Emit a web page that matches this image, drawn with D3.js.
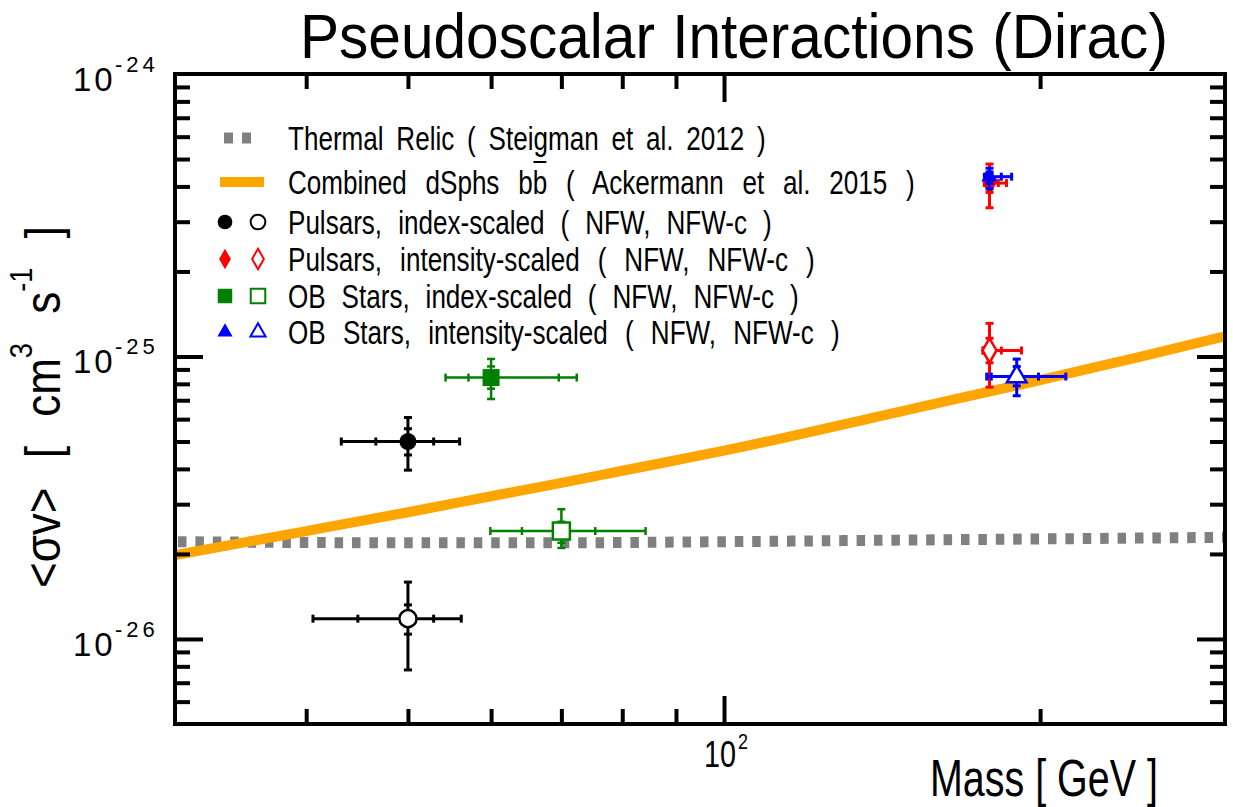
<!DOCTYPE html>
<html><head><meta charset="utf-8">
<script src="https://cdn.jsdelivr.net/npm/d3@7"></script>
<style>body{margin:0;background:#fff} svg{display:block}</style>
</head><body>
<script>
// ---------------- data ----------------
const massDomain = [30, 300];
const sigmaDomain = [5e-27, 1e-24];
const xMinorTicks = [40, 50, 60, 70, 80, 90, 200];
const xMajorTicks = [100];
const xTickBase = ["10"];
const xTickExp = ["2"];
const yMajorTicks = [1e-26, 1e-25, 1e-24];
const yTickBase = ["10", "10", "10"];
const yTickExp = ["-26", "-25", "-24"];
const yMinorTicks = [6e-27, 7e-27, 8e-27, 9e-27,
  2e-26, 3e-26, 4e-26, 5e-26, 6e-26, 7e-26, 8e-26, 9e-26,
  2e-25, 3e-25, 4e-25, 5e-25, 6e-25, 7e-25, 8e-25, 9e-25];

const thermalMass = [30, 50, 70, 100, 150, 200, 300];
const thermalSigma = [2.21e-26, 2.19e-26, 2.19e-26, 2.21e-26, 2.24e-26, 2.26e-26, 2.29e-26];

const dsphMass = [30, 40, 50, 60, 70, 80, 100, 150, 200, 250, 300];
const dsphSigma = [1.98e-26, 2.41e-26, 2.81e-26, 3.2e-26, 3.57e-26, 3.94e-26, 4.64e-26, 6.49e-26, 8.25e-26, 1.0e-25, 1.18e-25];

const pointSeries = ["Pulsars, index-scaled", "Pulsars, index-scaled", "Pulsars, intensity-scaled", "Pulsars, intensity-scaled",
  "OB Stars, index-scaled", "OB Stars, index-scaled", "OB Stars, intensity-scaled", "OB Stars, intensity-scaled"];
const pointProfile = ["NFW", "NFW-c", "NFW", "NFW-c", "NFW", "NFW-c", "NFW", "NFW-c"];
const pointMass  = [50, 50, 179, 179, 60, 70, 179, 190];
const pointSigma = [5.0e-26, 1.18e-26, 4.11e-25, 1.05e-25, 8.42e-26, 2.41e-26, 4.33e-25, 8.49e-26];
const massInnerLo = [46.6, 44.8, 177.5, 176.5, 57.1, 64.2, 177.5, 179.7];
const massInnerHi = [52.9, 52.9, 182.5, 183.7, 69.6, 75.4, 183.7, 199.3];
const massOuterLo = [43.2, 40.6, 177.0, 176.5, 54.3, 59.9, 177.0, 177.9];
const massOuterHi = [56.0, 56.2, 185.8, 192.0, 72.4, 84.2, 187.9, 211.6];
const sigmaInnerLo = [4.48e-26, 1.04e-26, 3.81e-25, 9.5e-26, 7.69e-26, 2.19e-26, 4.1e-25, 7.87e-26];
const sigmaInnerHi = [5.55e-26, 1.32e-26, 4.45e-25, 1.16e-25, 9.22e-26, 2.6e-26, 4.5e-25, 9.22e-26];
const sigmaOuterLo = [3.96e-26, 7.77e-27, 3.36e-25, 7.79e-26, 7.07e-26, 2.1e-26, 3.92e-25, 7.26e-26];
const sigmaOuterHi = [6.08e-26, 1.59e-26, 4.8e-25, 1.31e-25, 9.8e-26, 2.88e-26, 4.64e-25, 9.79e-26];

const legendLabels = [
  "Thermal Relic ( Steigman et al. 2012 )",
  "Combined dSphs bb ( Ackermann et al. 2015 )",
  "Pulsars, index-scaled ( NFW, NFW-c )",
  "Pulsars, intensity-scaled ( NFW, NFW-c )",
  "OB Stars, index-scaled ( NFW, NFW-c )",
  "OB Stars, intensity-scaled ( NFW, NFW-c )"
];
const titleText = "Pseudoscalar Interactions (Dirac)";

// ---------------- style ----------------
const W = 1233, H = 807;
const L = 175, R = 1225, T = 74, B = 724;
const SANS = "'Liberation Sans',Arial,Helvetica,sans-serif";
const shapeOf = {circle: d3.symbolCircle, diamond: d3.symbolDiamond, square: d3.symbolSquare, triangle: d3.symbolTriangle};
const seriesShape = ["circle", "circle", "diamond", "diamond", "square", "square", "triangle", "triangle"];
const seriesFilled = [true, false, true, false, true, false, true, false];
const seriesColor = ["#000000", "#000000", "#ff0000", "#ff0000", "#008000", "#008000", "#0000ff", "#0000ff"];
const markerSize = {circle: 230, diamond: 170, square: 289, triangle: 115};
const markerSizeOpen = {circle: 230, diamond: 170, square: 289, triangle: 165};
const legendSize = {circle: 170, diamond: 120, square: 210, triangle: 100};

const svg = d3.select("body").append("svg").attr("width", W).attr("height", H);
svg.append("rect").attr("width", W).attr("height", H).attr("fill", "#fff");

const x = d3.scaleLog().domain(massDomain).range([L, R]);
const y = d3.scaleLog().domain(sigmaDomain).range([B, T]);

// condensed text: glyphs squeezed horizontally by ~c, extra room put into word spaces
function condensed(sel, px, py, target, c, rot) {
  const node = sel.node();
  const nat = node.getComputedTextLength();
  const n = (node.textContent.match(/ /g) || []).length;
  if (n > 0 && nat * c < target) {
    sel.style("word-spacing", ((target / c - nat) / n) + "px");
  }
  const nat2 = node.getComputedTextLength();
  const s = target / nat2;
  sel.attr("transform", `translate(${px},${py})` + (rot ? ` rotate(${rot})` : "") + ` scale(${s},1)`);
}

// clip
svg.append("clipPath").attr("id", "clip").append("rect")
  .attr("x", L).attr("y", T).attr("width", R - L).attr("height", B - T);

// ---------------- lines ----------------
const lineGen = d3.line().x(d => x(d[0])).y(d => y(d[1])).curve(d3.curveMonotoneX);
const plotG = svg.append("g").attr("clip-path", "url(#clip)");
plotG.append("path")
  .attr("d", lineGen(thermalMass.map((m, i) => [m, thermalSigma[i]])))
  .attr("fill", "none").attr("stroke", "#808080").attr("stroke-width", 11)
  .attr("stroke-dasharray", "8.5,8.9").attr("stroke-dashoffset", -3);
plotG.append("path")
  .attr("d", lineGen(dsphMass.map((m, i) => [m, dsphSigma[i]])))
  .attr("fill", "none").attr("stroke", "#ffa500").attr("stroke-width", 10);

// ---------------- axes (ticks inside on all sides) ----------------
function styleAxis(g) {
  g.select(".domain").remove();
  g.selectAll(".tick line").attr("stroke", "#000").attr("stroke-width", 4);
  g.selectAll(".tick text").remove();
}
svg.append("g").attr("transform", `translate(0,${B})`)
  .call(d3.axisBottom(x).tickValues(xMinorTicks).tickSize(-15).tickFormat("")).call(styleAxis);
svg.append("g").attr("transform", `translate(0,${B})`)
  .call(d3.axisBottom(x).tickValues(xMajorTicks).tickSize(-28).tickFormat("")).call(styleAxis);
svg.append("g").attr("transform", `translate(0,${T})`)
  .call(d3.axisTop(x).tickValues(xMinorTicks).tickSize(-15).tickFormat("")).call(styleAxis);
svg.append("g").attr("transform", `translate(0,${T})`)
  .call(d3.axisTop(x).tickValues(xMajorTicks).tickSize(-28).tickFormat("")).call(styleAxis);
svg.append("g").attr("transform", `translate(${L},0)`)
  .call(d3.axisLeft(y).tickValues(yMinorTicks).tickSize(-15).tickFormat("")).call(styleAxis);
svg.append("g").attr("transform", `translate(${L},0)`)
  .call(d3.axisLeft(y).tickValues(yMajorTicks.slice(0, 2)).tickSize(-28).tickFormat("")).call(styleAxis);
svg.append("g").attr("transform", `translate(${R},0)`)
  .call(d3.axisRight(y).tickValues(yMinorTicks).tickSize(-15).tickFormat("")).call(styleAxis);
svg.append("g").attr("transform", `translate(${R},0)`)
  .call(d3.axisRight(y).tickValues(yMajorTicks.slice(0, 2)).tickSize(-28).tickFormat("")).call(styleAxis);

// frame
svg.append("rect").attr("x", L).attr("y", T).attr("width", R - L).attr("height", B - T)
  .attr("fill", "none").attr("stroke", "#000").attr("stroke-width", 4);

// tick labels
yMajorTicks.forEach((v, i) => {
  const t = svg.append("text").attr("font-family", SANS).attr("fill", "#000");
  t.append("tspan").attr("x", 73).attr("y", y(v) + 17).attr("font-size", 33).attr("letter-spacing", 3).text(yTickBase[i]);
  t.append("tspan").attr("x", 115).attr("y", y(v) - 2).attr("font-size", 22).attr("letter-spacing", 4).text(yTickExp[i]);
});
xMajorTicks.forEach((v, i) => {
  const t1 = svg.append("text").attr("font-family", SANS).attr("font-size", 37).attr("fill", "#000").text(xTickBase[i]);
  condensed(t1, x(v) - 20, 767, 32, 1);
  const t2 = svg.append("text").attr("font-family", SANS).attr("font-size", 22).attr("fill", "#000").text(xTickExp[i]);
  condensed(t2, x(v) + 14, 749, 10, 1);
});

// title
const title = svg.append("text").attr("font-family", SANS)
  .attr("font-size", 63).attr("fill", "#000").text(titleText);
condensed(title, 300, 58, 868, 0.93);

// axis labels
const xl = svg.append("text").attr("font-family", SANS)
  .attr("font-size", 52).attr("fill", "#000").text("Mass [ GeV ]");
condensed(xl, 930, 796, 228, 0.78);

const yl = svg.append("text").attr("font-family", SANS).attr("font-size", 50).attr("fill", "#000");
yl.append("tspan").text("<σv> [ cm");
yl.append("tspan").attr("font-size", 31).attr("dy", -28).text("3");
yl.append("tspan").attr("dy", 28).text(" s");
yl.append("tspan").attr("font-size", 31).attr("dy", -28).text("-1");
yl.append("tspan").attr("dy", 28).text(" ]");
condensed(yl, 60, 588, 362, 0.88, -90);

// ---------------- error bars + markers ----------------
const cap = 4;
pointMass.forEach((m, i) => {
  const col = seriesColor[i];
  const sw = col === "#008000" ? 2.5 : 3;
  const g = svg.append("g").attr("stroke", col).attr("stroke-width", sw).attr("fill", "none");
  const cx = x(m), cy = y(pointSigma[i]);
  g.append("line").attr("x1", x(massOuterLo[i])).attr("x2", x(massOuterHi[i])).attr("y1", cy).attr("y2", cy);
  g.append("line").attr("x1", cx).attr("x2", cx).attr("y1", y(sigmaOuterHi[i])).attr("y2", y(sigmaOuterLo[i]));
  [massInnerLo[i], massInnerHi[i], massOuterLo[i], massOuterHi[i]].forEach(v => {
    g.append("line").attr("x1", x(v)).attr("x2", x(v)).attr("y1", cy - cap).attr("y2", cy + cap);
  });
  [sigmaInnerLo[i], sigmaInnerHi[i], sigmaOuterLo[i], sigmaOuterHi[i]].forEach(v => {
    g.append("line").attr("x1", cx - cap).attr("x2", cx + cap).attr("y1", y(v)).attr("y2", y(v));
  });
  const shp = seriesShape[i];
  const size = seriesFilled[i] ? markerSize[shp] : markerSizeOpen[shp];
  svg.append("path").attr("d", d3.symbol().type(shapeOf[shp]).size(size)())
    .attr("transform", `translate(${cx},${cy})`)
    .attr("fill", seriesFilled[i] ? col : "#fff")
    .attr("stroke", col).attr("stroke-width", seriesFilled[i] ? 0 : 2.5);
});

// ---------------- legend ----------------
const rowY = [138, 182, 222, 259, 296, 332];
const lg = svg.append("g");
lg.append("line").attr("x1", 224).attr("x2", 253).attr("y1", rowY[0]).attr("y2", rowY[0])
  .attr("stroke", "#808080").attr("stroke-width", 11).attr("stroke-dasharray", "9,9");
lg.append("line").attr("x1", 220).attr("x2", 264).attr("y1", rowY[1]).attr("y2", rowY[1])
  .attr("stroke", "#ffa500").attr("stroke-width", 10);
for (let r = 0; r < 4; r++) {
  const iF = r * 2, iO = r * 2 + 1;
  const shp = seriesShape[iF];
  lg.append("path").attr("d", d3.symbol().type(shapeOf[shp]).size(legendSize[shp])())
    .attr("transform", `translate(225,${rowY[r + 2]})`).attr("fill", seriesColor[iF]);
  lg.append("path").attr("d", d3.symbol().type(shapeOf[shp]).size(legendSize[shp])())
    .attr("transform", `translate(258,${rowY[r + 2]})`).attr("fill", "#fff")
    .attr("stroke", seriesColor[iO]).attr("stroke-width", 2);
}
const legendWidths = [478, 627, 484, 527, 511, 552];
legendLabels.forEach((s, i) => {
  const t = lg.append("text").attr("font-family", SANS)
    .attr("font-size", 33).attr("fill", "#000").text(s);
  condensed(t, 288, rowY[i] + 12, legendWidths[i], 0.79);
  if (i === 1) {
    const idx = s.indexOf("bb") + 1;
    const ext = t.node().getExtentOfChar(idx);
    const m = t.node().getCTM();
    const sx = m.a, tx = m.e;
    lg.append("line").attr("x1", tx + sx * (ext.x + 1)).attr("x2", tx + sx * (ext.x + ext.width - 1))
      .attr("y1", rowY[i] - 20).attr("y2", rowY[i] - 20).attr("stroke", "#000").attr("stroke-width", 2);
  }
});
</script>
</body></html>
